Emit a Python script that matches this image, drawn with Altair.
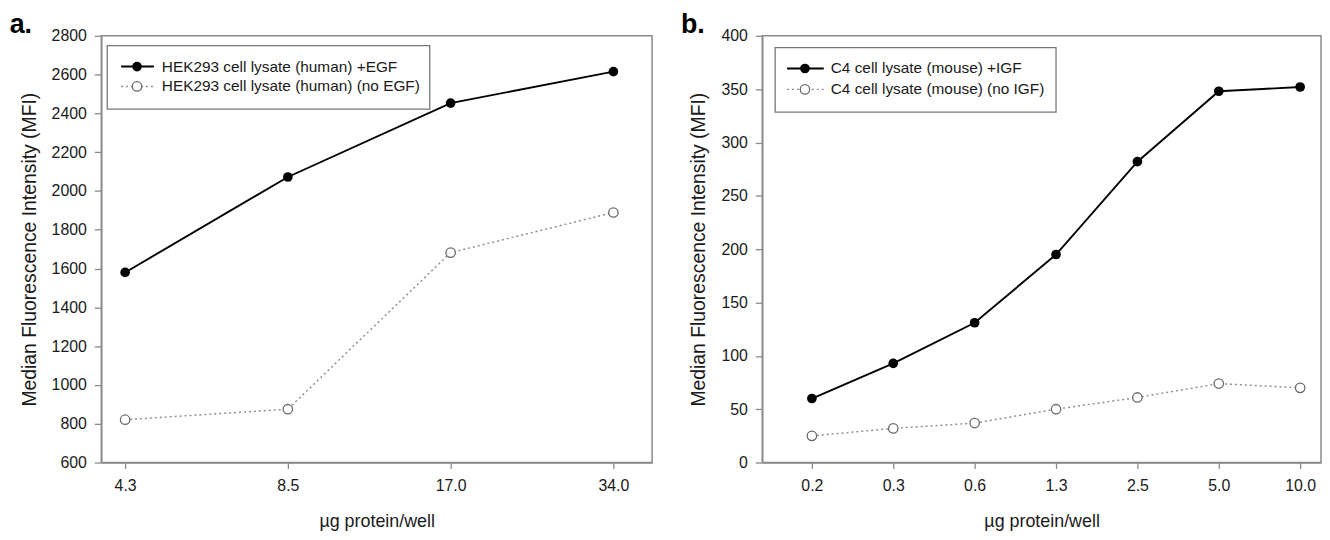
import json
import altair as alt
import pandas as pd

# ---- data ----
a_labels = ["4.3", "8.5", "17.0", "34.0"]
a_egf = [1580, 2072, 2453, 2615]
a_noegf = [821, 875, 1682, 1889]
a_series = ["HEK293 cell lysate (human) +EGF", "HEK293 cell lysate (human) (no EGF)"]
a_yticks = [600, 800, 1000, 1200, 1400, 1600, 1800, 2000, 2200, 2400, 2600, 2800]

b_labels = ["0.2", "0.3", "0.6", "1.3", "2.5", "5.0", "10.0"]
b_igf = [60, 93, 131, 195, 282, 348, 352]
b_noigf = [25, 32, 37, 50, 61, 74, 70]
b_series = ["C4 cell lysate (mouse) +IGF", "C4 cell lysate (mouse) (no IGF)"]
b_yticks = [0, 50, 100, 150, 200, 250, 300, 350, 400]

x_title = "µg protein/well"
y_title = "Median Fluorescence Intensity (MFI)"

FONT = "Liberation Sans"
GRAY = "#8a8a8a"
TXT = "#1a1a1a"


def panel(labels, on, off, series, xdom, ydom, yticks, letter, width, letter_x, leg):
    n = len(labels)
    df = pd.DataFrame({"idx": list(range(n)), "on": on, "off": off})
    lab_expr = json.dumps(labels) + "[datum.value]"
    x = alt.X("idx:Q",
              scale=alt.Scale(domain=xdom, nice=False, zero=False),
              axis=alt.Axis(values=list(range(n)), labelExpr=lab_expr, title=x_title,
                            tickSize=6, labelPadding=9, titlePadding=19,
                            labelFontSize=16, titleFontSize=18))
    ysc = alt.Scale(domain=ydom, nice=False, zero=False)
    yax = alt.Axis(values=yticks, format="d", title=y_title, tickSize=7, labelPadding=8,
                   titlePadding=12, labelFontSize=16, titleFontSize=19.5)
    base = alt.Chart(df)
    line_off = base.mark_line(color="#8f8f8f", strokeWidth=1.5, strokeDash=[2, 3]).encode(
        x=x, y=alt.Y("off:Q", scale=ysc, axis=yax))
    line_on = base.mark_line(color="#000000", strokeWidth=1.9).encode(
        x=x, y=alt.Y("on:Q", scale=ysc, axis=yax))
    pts_off = base.mark_point(shape="circle", filled=False, fill="white", fillOpacity=1,
                              color="#6a6a6a", strokeWidth=1.3, size=90, opacity=1).encode(
        x=x, y=alt.Y("off:Q", scale=ysc, axis=yax))
    pts_on = base.mark_point(shape="circle", filled=True, color="#000000", size=95,
                             opacity=1).encode(
        x=x, y=alt.Y("on:Q", scale=ysc, axis=yax))

    one = pd.DataFrame({"k": [0]})
    dec = alt.Chart(one)
    bx0, bx1, by0, by1, r1, r2, lx0, lx1, mx, tx = leg
    box = dec.mark_rect(fill="white", stroke="#777777", strokeWidth=1.3).encode(
        x=alt.value(bx0), x2=alt.value(bx1), y=alt.value(by0), y2=alt.value(by1))
    l1 = dec.mark_rule(color="#000000", strokeWidth=1.9).encode(
        x=alt.value(lx0), x2=alt.value(lx1), y=alt.value(r1))
    l2 = dec.mark_rule(color="#8f8f8f", strokeWidth=1.5, strokeDash=[2, 3]).encode(
        x=alt.value(lx0), x2=alt.value(lx1), y=alt.value(r2))
    p1 = dec.mark_point(shape="circle", filled=True, color="#000000", size=95, opacity=1).encode(
        x=alt.value(mx), y=alt.value(r1))
    p2 = dec.mark_point(shape="circle", filled=False, fill="white", fillOpacity=1,
                        color="#6a6a6a", strokeWidth=1.3, size=90, opacity=1).encode(
        x=alt.value(mx), y=alt.value(r2))
    t1 = dec.mark_text(text=series[0], align="left", baseline="middle", fontSize=15.5,
                       font=FONT, color=TXT).encode(x=alt.value(tx), y=alt.value(r1))
    t2 = dec.mark_text(text=series[1], align="left", baseline="middle", fontSize=15.5,
                       font=FONT, color=TXT).encode(x=alt.value(tx), y=alt.value(r2))
    let = dec.mark_text(text=letter, align="center", baseline="top", fontSize=27,
                        fontWeight="bold", font=FONT, color="#000000").encode(
        x=alt.value(letter_x), y=alt.value(-24))

    return alt.layer(line_off, line_on, pts_off, pts_on, box, l1, l2, p1, p2, t1, t2, let
                     ).properties(width=width, height=430)


pa = panel(a_labels, a_egf, a_noegf, a_series,
           [-24 / 164, 3 + 39 / 164], [600, 2800], a_yticks, "a.", 555, -81,
           (6, 331, 10, 74, 31, 51, 20, 53, 36, 61))
pb = panel(b_labels, b_igf, b_noigf, b_series,
           [-50 / 82, 6 + 21 / 82], [0, 400], b_yticks, "b.", 563, -70,
           (13, 296, 12, 77, 33, 54, 25, 62, 43, 69))

chart = alt.hconcat(pa, pb, spacing=27).properties(
    padding={"left": 0, "top": 0, "right": 0, "bottom": 0}
).configure_view(
    stroke=GRAY, strokeWidth=1.5
).configure_axis(
    grid=False, domainColor=GRAY, domainWidth=1.5, tickColor=GRAY, tickWidth=1.3,
    labelFont=FONT, titleFont=FONT, labelColor=TXT, titleColor=TXT,
    titleFontWeight="normal"
)

chart.save("out.html", embed_options={"renderer": "svg", "actions": False})
